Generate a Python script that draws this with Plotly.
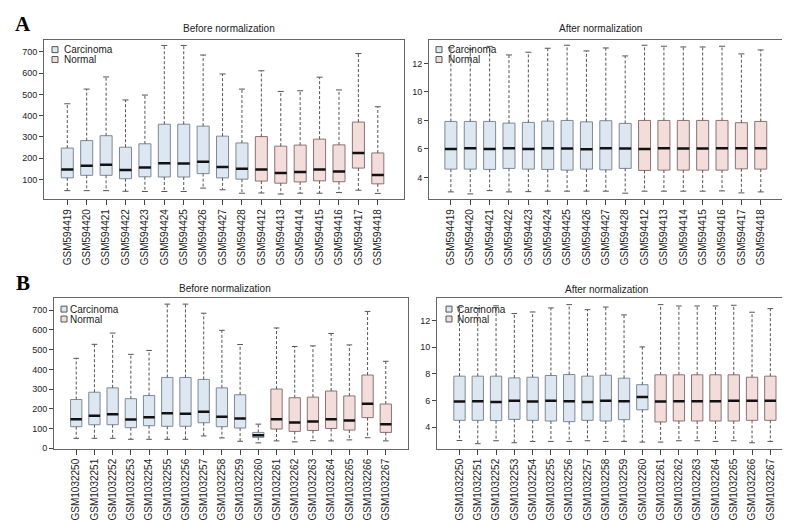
import plotly.graph_objects as go

# ---------------- data ----------------
A_carcinoma = ["GSM594419", "GSM594420", "GSM594421", "GSM594422", "GSM594423",
               "GSM594424", "GSM594425", "GSM594426", "GSM594427", "GSM594428"]
A_normal = ["GSM594412", "GSM594413", "GSM594414", "GSM594415", "GSM594416",
            "GSM594417", "GSM594418"]
B_carcinoma = ["GSM1032250", "GSM1032251", "GSM1032252", "GSM1032253", "GSM1032254",
               "GSM1032255", "GSM1032256", "GSM1032257", "GSM1032258", "GSM1032259",
               "GSM1032260"]
B_normal = ["GSM1032261", "GSM1032262", "GSM1032263", "GSM1032264", "GSM1032265",
            "GSM1032266", "GSM1032267"]

# A - before normalization
A_before_lo = [48, 48, 48, 45, 44, 44, 44, 60, 52, 36, 37, 32, 36, 36, 39, 50, 35]
A_before_q1 = [108, 120, 120, 104, 113, 112, 112, 128, 108, 102, 93, 83, 89, 94, 90, 154, 80]
A_before_med = [147, 165, 170, 145, 157, 177, 175, 184, 159, 151, 147, 131, 136, 147, 138, 225, 121]
A_before_q3 = [248, 283, 306, 252, 268, 360, 360, 351, 304, 272, 302, 257, 262, 290, 263, 370, 225]
A_before_hi = [456, 525, 582, 474, 497, 730, 730, 685, 596, 525, 611, 514, 517, 581, 521, 692, 442]

# A - after normalization
A_after_lo = [2.98, 2.84, 3.07, 2.98, 3.00, 3.03, 3.03, 3.03, 3.03, 2.89, 3.03, 3.03, 3.03, 3.03, 3.05, 2.91, 2.98]
A_after_q1 = [4.58, 4.58, 4.56, 4.63, 4.58, 4.56, 4.51, 4.58, 4.53, 4.63, 4.49, 4.51, 4.51, 4.51, 4.51, 4.60, 4.58]
A_after_med = [6.00, 6.05, 6.00, 6.05, 6.00, 6.05, 6.02, 5.98, 6.05, 6.02, 6.00, 6.05, 6.02, 6.02, 6.05, 6.05, 6.05]
A_after_q3 = [7.93, 7.93, 7.93, 7.81, 7.86, 7.95, 8.00, 7.90, 7.98, 7.79, 8.00, 8.00, 8.00, 8.00, 8.00, 7.84, 7.93]
A_after_hi = [13.1, 13.0, 13.2, 12.6, 12.79, 13.07, 13.28, 12.88, 13.09, 12.53, 13.28, 13.21, 13.16, 13.16, 13.21, 12.67, 12.95]

# B - before normalization
B_before_lo = [50, 50, 50, 45, 45, 45, 45, 62, 52, 35, 27, 37, 32, 38, 37, 42, 53, 37]
B_before_q1 = [109, 119, 119, 104, 114, 111, 111, 129, 109, 102, 55, 97, 85, 90, 100, 92, 155, 80]
B_before_med = [147, 164, 172, 145, 157, 177, 175, 185, 159, 151, 65, 147, 130, 135, 147, 140, 226, 122]
B_before_q3 = [247, 284, 306, 251, 267, 359, 359, 349, 306, 271, 80, 300, 256, 259, 290, 265, 371, 224]
B_before_hi = [456, 527, 584, 476, 496, 731, 731, 685, 598, 526, 122, 610, 516, 519, 582, 524, 694, 441]

# B - after normalization
B_after_lo = [3.01, 2.77, 2.99, 2.84, 2.94, 2.94, 2.94, 2.99, 2.94, 2.94, 2.89, 2.89, 2.99, 2.99, 2.94, 2.99, 2.84, 2.94]
B_after_q1 = [4.52, 4.52, 4.50, 4.59, 4.52, 4.47, 4.42, 4.52, 4.47, 4.57, 5.31, 4.40, 4.47, 4.47, 4.47, 4.47, 4.52, 4.52]
B_after_med = [5.93, 5.95, 5.90, 5.98, 5.93, 5.98, 5.95, 5.90, 5.98, 5.95, 6.27, 5.93, 5.95, 5.95, 5.95, 5.98, 5.98, 5.98]
B_after_q3 = [7.83, 7.83, 7.83, 7.70, 7.75, 7.88, 7.95, 7.83, 7.90, 7.68, 7.19, 7.93, 7.93, 7.93, 7.93, 7.93, 7.75, 7.83]
B_after_hi = [13.0, 12.9, 13.1, 12.52, 12.64, 12.94, 13.19, 12.81, 13.01, 12.42, 10.02, 13.19, 13.09, 13.09, 13.09, 13.14, 12.62, 12.89]

legend_labels = ["Carcinoma", "Normal"]

# ---------------- style ----------------
W, H = 790, 525
FONT = "Liberation Sans, Arial, sans-serif"
FILL = {"Carcinoma": "#dde7f1", "Normal": "#f2dddb"}
EDGE = {"Carcinoma": "#7d8996", "Normal": "#8c7272"}
WHISK = "#555555"
BOXW = 0.62

fig = go.Figure()


def px_x(p):
    return p / W


def px_y(p):
    return 1 - p / H


def add_panel(idx, carc, norm, lo, q1, med, q3, hi):
    xa = "x" if idx == 1 else f"x{idx}"
    ya = "y" if idx == 1 else f"y{idx}"
    names = carc + norm
    groups = ["Carcinoma"] * len(carc) + ["Normal"] * len(norm)
    pos = list(range(len(names)))
    for g in legend_labels:
        ii = [i for i in pos if groups[i] == g]
        fig.add_trace(go.Bar(
            x=ii, y=[q3[i] - q1[i] for i in ii], base=[q1[i] for i in ii],
            width=BOXW, marker=dict(color=FILL[g], line=dict(color=EDGE[g], width=1)),
            xaxis=xa, yaxis=ya, showlegend=False, hoverinfo="skip"))
    # whiskers (dashed)
    wx, wy = [], []
    for i in pos:
        wx += [i, i, None, i, i, None]
        wy += [q3[i], hi[i], None, q1[i], lo[i], None]
    fig.add_trace(go.Scatter(x=wx, y=wy, mode="lines", xaxis=xa, yaxis=ya,
                             line=dict(color=WHISK, width=1, dash="3px,2px"),
                             showlegend=False, hoverinfo="skip"))
    # staples
    cx, cy = [], []
    for i in pos:
        cx += [i - BOXW / 4, i + BOXW / 4, None, i - BOXW / 4, i + BOXW / 4, None]
        cy += [hi[i], hi[i], None, lo[i], lo[i], None]
    fig.add_trace(go.Scatter(x=cx, y=cy, mode="lines", xaxis=xa, yaxis=ya,
                             line=dict(color=WHISK, width=1),
                             showlegend=False, hoverinfo="skip"))
    # medians
    mx, my = [], []
    for i in pos:
        mx += [i - BOXW / 2, i + BOXW / 2, None]
        my += [med[i], med[i], None]
    fig.add_trace(go.Scatter(x=mx, y=my, mode="lines", xaxis=xa, yaxis=ya,
                             line=dict(color="#111111", width=2.5),
                             showlegend=False, hoverinfo="skip"))
    return names, pos


panels = [
    (1, A_carcinoma, A_normal, A_before_lo, A_before_q1, A_before_med, A_before_q3, A_before_hi),
    (2, A_carcinoma, A_normal, A_after_lo, A_after_q1, A_after_med, A_after_q3, A_after_hi),
    (3, B_carcinoma, B_normal, B_before_lo, B_before_q1, B_before_med, B_before_q3, B_before_hi),
    (4, B_carcinoma, B_normal, B_after_lo, B_after_q1, B_after_med, B_after_q3, B_after_hi),
]

# pixel frames: (left, right, top, bottom), x range, y range, y ticks
frames = {
    1: ((36, 396, 32, 193), [-1.2, 17.35], [8, 757], [100, 200, 300, 400, 500, 600, 700]),
    2: ((421, 776, 32, 193), [-1.13, 17.2], [2.47, 13.67], [4, 6, 8, 10, 12]),
    3: ((46, 400, 293, 445), [-1.22, 18.22], [-3, 761], [0, 100, 200, 300, 400, 500, 600, 700]),
    4: ((429, 785, 293, 445), [-1.23, 18.24], [2.39, 13.67], [4, 6, 8, 10, 12]),
}

layout_axes = {}
for p in panels:
    idx = p[0]
    names, pos = add_panel(*p)
    (l, r, t, b), xr, yr, yt = frames[idx]
    xk = "xaxis" if idx == 1 else f"xaxis{idx}"
    yk = "yaxis" if idx == 1 else f"yaxis{idx}"
    ya = "y" if idx == 1 else f"y{idx}"
    xa = "x" if idx == 1 else f"x{idx}"
    layout_axes[xk] = dict(
        domain=[px_x(l), px_x(r)], range=xr, anchor=ya,
        tickmode="array", tickvals=pos, ticktext=names, tickangle=-90,
        ticks="outside", ticklen=5, tickcolor="#444", tickwidth=1,
        tickfont=dict(size=10, color="#222", family=FONT),
        showline=True, mirror=True, linecolor="#666", linewidth=1,
        showgrid=False, zeroline=False, fixedrange=True)
    layout_axes[yk] = dict(
        domain=[px_y(b), px_y(t)], range=yr, anchor=xa,
        tickmode="array", tickvals=yt,
        ticks="outside", ticklen=4, tickcolor="#444", tickwidth=1,
        tickfont=dict(size=9, color="#222", family=FONT),
        showline=True, mirror=True, linecolor="#666", linewidth=1,
        showgrid=False, zeroline=False, fixedrange=True)

fig.update_layout(**layout_axes)

annotations = []
shapes = []
# panel titles
titles = [("Before normalization", 221, 21), ("After normalization", 592, 21),
          ("Before normalization", 217, 283), ("After normalization", 598, 284)]
for txt, x, y in titles:
    annotations.append(dict(text=txt, x=px_x(x), y=px_y(y), xref="paper", yref="paper",
                            showarrow=False, xanchor="center", yanchor="middle",
                            font=dict(size=10, color="#222", family=FONT)))
# panel letters
for txt, x, y in [("A", 15, 16), ("B", 15, 278)]:
    annotations.append(dict(text=f"<b>{txt}</b>", x=px_x(x), y=px_y(y), xref="paper", yref="paper",
                            showarrow=False, xanchor="center", yanchor="middle",
                            font=dict(size=21, color="#000", family="Liberation Serif, Times New Roman, serif")))
# manual legends (square + label)
legend_pos = [(44, 54, 42, 52), (428, 438, 42, 52), (53, 60, 304, 314), (438, 447, 304, 314)]
for sq_x, tx, y1, y2 in legend_pos:
    for lab, yy in zip(legend_labels, [y1, y2]):
        shapes.append(dict(type="rect", xref="paper", yref="paper",
                           x0=px_x(sq_x), x1=px_x(sq_x + 6), y0=px_y(yy + 3), y1=px_y(yy - 3),
                           fillcolor=FILL[lab], line=dict(color="#555", width=1)))
        annotations.append(dict(text=lab, x=px_x(tx), y=px_y(yy), xref="paper", yref="paper",
                                showarrow=False, xanchor="left", yanchor="middle",
                                font=dict(size=10, color="#222", family=FONT)))

fig.update_layout(
    width=W, height=H, autosize=False,
    margin=dict(l=0, r=0, t=0, b=0),
    paper_bgcolor="white", plot_bgcolor="white",
    barmode="overlay", showlegend=False,
    annotations=annotations, shapes=shapes,
    font=dict(family=FONT),
)

fig.write_html("out.html")
